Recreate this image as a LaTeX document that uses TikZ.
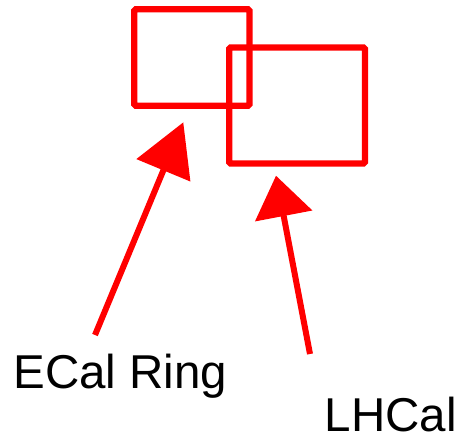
\documentclass[tikz,border=0pt]{standalone}
\usepackage{fontspec}
\setmainfont{Liberation Sans}
\usetikzlibrary{arrows.meta}
\definecolor{pured}{RGB}{255,0,0}
\tikzset{
  box/.style={draw=pured, line width=6.3pt, rounded corners=1.5pt},
  lbl/.style={inner sep=0pt, outer sep=0pt, anchor=base west, font=\fontsize{47.5}{52}\selectfont},
  pointer/.style={draw=pured, line width=6pt}
}
\begin{document}
\begin{tikzpicture}[x=1pt,y=-1pt]
\useasboundingbox (0,0) rectangle (459,438);
% boxes
\draw[box] (134.2,9.3) rectangle (249.5,105.7);
\draw[box] (229.2,47.5) rectangle (365,163.5);
% labels
\node[lbl] (ecal) at (13.6,388.3) {ECal Ring};
\node[lbl] (lhcal) at (324.8,431.7) {LHCal};
% arrow ends
\coordinate (ecaltail) at (95,335);
\coordinate (ecaltip) at (183.3,122.3);
\coordinate (lhcaltail) at (310,354);
\coordinate (lhcaltip) at (276,175.7);
\draw[pointer, -{Triangle[length=52pt,width=57pt,color=pured]}] (ecaltail) -- (ecaltip);
\draw[pointer, -{Triangle[length=41pt,width=57pt,color=pured]}] (lhcaltail) -- (lhcaltip);
\end{tikzpicture}
\end{document}
